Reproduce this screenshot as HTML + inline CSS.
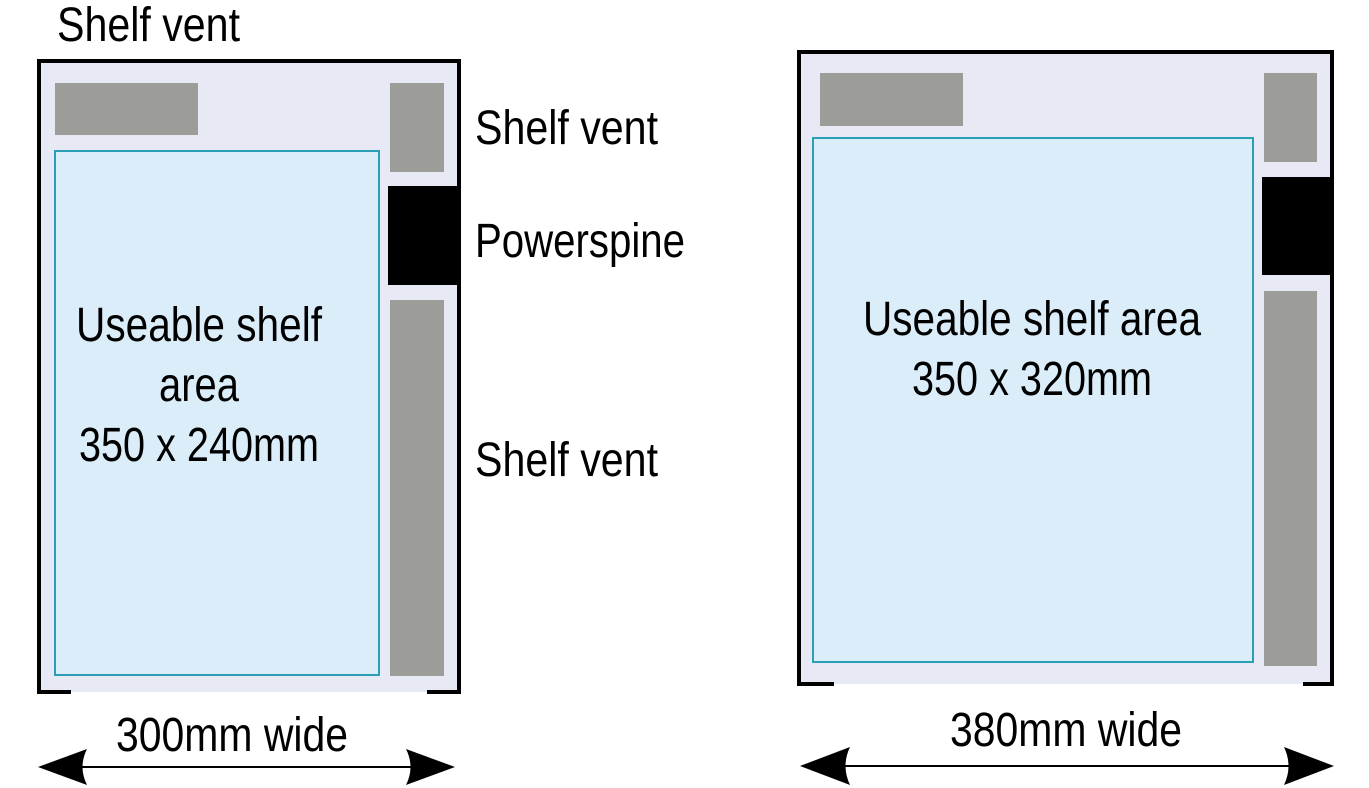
<!DOCTYPE html>
<html><head><meta charset="utf-8"><style>
html,body{margin:0;padding:0;background:#fff;}
svg{display:block;}
text{font-family:"Liberation Sans Narrow","Liberation Sans",sans-serif;font-size:48px;fill:#000;}
</style></head><body>
<svg width="1369" height="788" viewBox="0 0 1369 788" xmlns="http://www.w3.org/2000/svg">
<rect x="39" y="61" width="420" height="631" fill="#e7e9f4"/>
<path d="M39,692 L39,61 L459,61 L459,692" fill="none" stroke="#000" stroke-width="4"/>
<path d="M37,692 L71,692 M427,692 L461,692" stroke="#000" stroke-width="4"/>
<rect x="55" y="83" width="143" height="52" fill="#9c9c98"/>
<rect x="390" y="83" width="54" height="89" fill="#9c9c98"/>
<rect x="388" y="186" width="73" height="99" fill="#000"/>
<rect x="390" y="300" width="54" height="376" fill="#9c9c98"/>
<rect x="55" y="151" width="324" height="524" fill="#daedf9" stroke="#2a9fb5" stroke-width="2"/>
<text x="199" y="341" text-anchor="middle" textLength="246" lengthAdjust="spacingAndGlyphs">Useable shelf</text>
<text x="199" y="401" text-anchor="middle" textLength="80" lengthAdjust="spacingAndGlyphs">area</text>
<text x="199" y="461" text-anchor="middle" textLength="240" lengthAdjust="spacingAndGlyphs">350 x 240mm</text>
<text x="57" y="41" textLength="183" lengthAdjust="spacingAndGlyphs">Shelf vent</text>
<text x="475" y="144" textLength="183" lengthAdjust="spacingAndGlyphs">Shelf vent</text>
<text x="475" y="257" textLength="210" lengthAdjust="spacingAndGlyphs">Powerspine</text>
<text x="475" y="476" textLength="183" lengthAdjust="spacingAndGlyphs">Shelf vent</text>
<text x="232" y="751" text-anchor="middle" textLength="232" lengthAdjust="spacingAndGlyphs">300mm wide</text>
<line x1="70" y1="767" x2="420" y2="767" stroke="#000" stroke-width="2"/>
<path d="M38,767 L87,749 Q78,767 87,785 Z" fill="#000"/>
<path d="M455,767 L406,749 Q415,767 406,785 Z" fill="#000"/>
<rect x="799" y="52" width="533" height="632" fill="#e7e9f4"/>
<path d="M799,684 L799,52 L1332,52 L1332,684" fill="none" stroke="#000" stroke-width="4"/>
<path d="M797,684 L834,684 M1303,684 L1334,684" stroke="#000" stroke-width="4"/>
<rect x="820" y="73" width="143" height="53" fill="#9c9c98"/>
<rect x="1264" y="73" width="53" height="89" fill="#9c9c98"/>
<rect x="1262" y="177" width="72" height="98" fill="#000"/>
<rect x="1264" y="291" width="53" height="375" fill="#9c9c98"/>
<rect x="813" y="138" width="440" height="524" fill="#daedf9" stroke="#2a9fb5" stroke-width="2"/>
<text x="1032" y="335" text-anchor="middle" textLength="338" lengthAdjust="spacingAndGlyphs">Useable shelf area</text>
<text x="1032" y="395" text-anchor="middle" textLength="240" lengthAdjust="spacingAndGlyphs">350 x 320mm</text>
<text x="1066" y="746" text-anchor="middle" textLength="232" lengthAdjust="spacingAndGlyphs">380mm wide</text>
<line x1="830" y1="766" x2="1300" y2="766" stroke="#000" stroke-width="2"/>
<path d="M800,766 L850,747 Q841,766 850,785 Z" fill="#000"/>
<path d="M1334,766 L1284,747 Q1293,766 1284,785 Z" fill="#000"/>
</svg>
</body></html>
